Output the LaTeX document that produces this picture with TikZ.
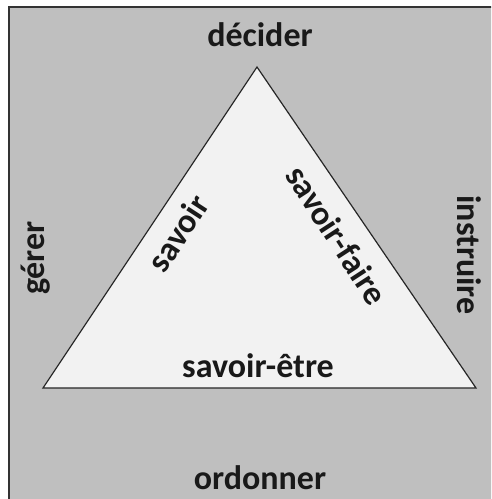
\documentclass[tikz,border=0pt]{standalone}
\usepackage{fontspec}
\setmainfont{Carlito}
\definecolor{bggray}{HTML}{BFBFBF}
\definecolor{trifill}{HTML}{F2F2F2}
\tikzset{
  lbl/.style={font=\fontsize{34}{38}\selectfont\bfseries, text=black!90, inner sep=0pt},
}
\begin{document}
\begin{tikzpicture}[x=1pt,y=1pt]
\useasboundingbox (0,0) rectangle (491,-499);
\clip (0,0) rectangle (491,-499);
\draw[fill=bggray, draw=black!80, line width=1.2pt] (9,-7) rectangle (500,-510);
\coordinate (A) at (257,-67);
\coordinate (B) at (43,-388);
\coordinate (C) at (476,-388);
\draw[fill=trifill, draw=black!85, line width=1.2pt] (A) -- (B) -- (C) -- cycle;
\node[lbl] (dec) at (260,-35) {décider};
\node[lbl, rotate=90] (ger) at (36,-258) {gérer};
\node[lbl, rotate=-90] (ins) at (469,-255) {instruire};
\node[lbl] (ord) at (260,-478) {ordonner};
\node[lbl, rotate=57] (sav) at (178,-233) {savoir};
\node[lbl, rotate=-57] (savf) at (337,-235) {savoir-faire};
\node[lbl] (save) at (258,-366) {savoir-être};
\end{tikzpicture}
\end{document}
